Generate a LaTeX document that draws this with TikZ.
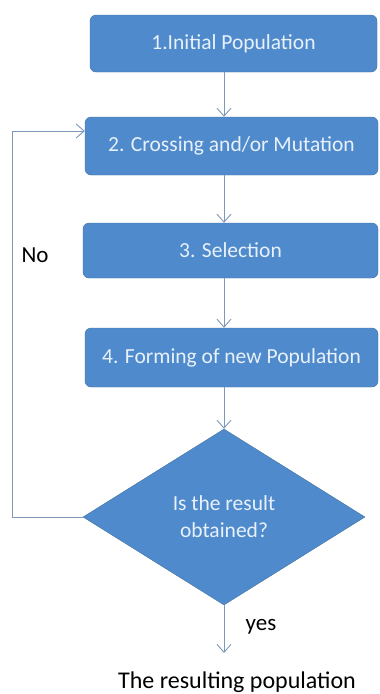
\documentclass[tikz,border=0pt]{standalone}
\usepackage{fontspec}
\setmainfont{Carlito}
\usepackage{tikz}
\usetikzlibrary{arrows.meta, shapes.geometric}
\definecolor{boxfill}{RGB}{79,139,204}
\definecolor{boxline}{RGB}{65,113,160}
\definecolor{boxtext}{RGB}{232,240,250}
\definecolor{linkcol}{RGB}{125,152,185}

\begin{document}
\begin{tikzpicture}[x=1pt,y=-1pt,
		stage/.style={draw=boxline, fill=boxfill, rounded corners=6pt, text=boxtext,
			font=\fontsize{21.5}{24}\selectfont, inner sep=0pt},
		test/.style={diamond, draw=boxline, fill=boxfill, text=boxtext, align=center,
			font=\fontsize{21.5}{27}\selectfont, inner sep=0pt, minimum width=282pt, minimum height=176pt},
		link/.style={draw=linkcol, line width=0.9pt, -{Straight Barb[length=8pt,width=14pt]}},
		plain/.style={font=\fontsize{23}{26}\selectfont}]
			\useasboundingbox (0,0) rectangle (380,694);
			\node[stage, minimum width=287pt, minimum height=57pt](b1) at (233.5,43.5){1.Initial Population};
			\node[stage, minimum width=293pt, minimum height=58pt](b2) at (231.5,146){2. Crossing and/or Mutation};
			\node[stage, minimum width=295pt, minimum height=55pt](b3) at (230.5,250.5){3. Selection};
			\node[stage, minimum width=293pt, minimum height=59pt](b4) at (231.5,357.5){4. Forming of new Population};
			\node[test](d) at (224,517){Is the result\\obtained?};
			\node[plain](no) at (35,255){No};
			\node[plain](yes) at (261,627){yes};
			\node[plain, font=\fontsize{24}{28}\selectfont](res) at (237,682){The resulting population};
			\coordinate(loop) at (12,131);
			\coordinate(out) at (224,653);
			\draw[link](b1.south -| d.north) -- (b2.north -| d.north);
			\draw[link](b2.south -| d.north) -- (b3.north -| d.north);
			\draw[link](b3.south -| d.north) -- (b4.north -| d.north);
			\draw[link](b4.south -| d.north) -- (d.north);
			\draw[link](d.west) -| (loop) -- (loop -| b2.west);
			\draw[link](d.south) -- (out);
		\end{tikzpicture}
\end{document}
